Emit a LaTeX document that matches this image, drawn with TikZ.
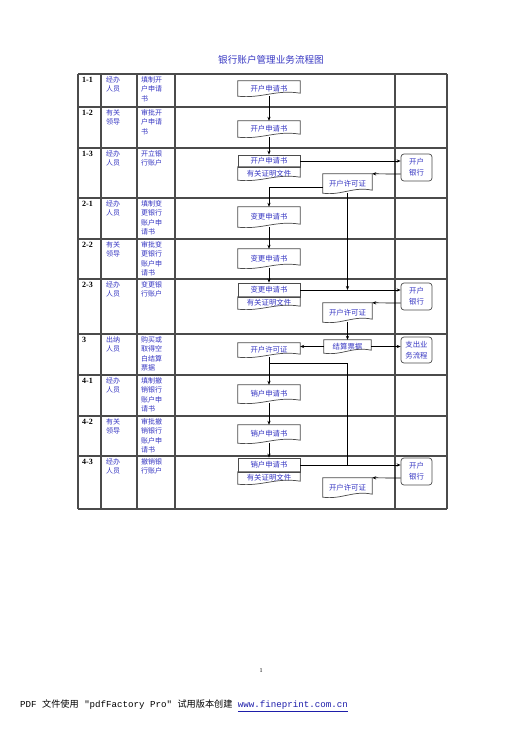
\documentclass[tikz,border=0pt]{standalone}
\usepackage{fontspec}
\setmainfont{Liberation Serif}
\setmonofont{Liberation Mono}
\newfontfamily\cjk{Noto Sans CJK SC}
\usetikzlibrary{arrows.meta}
\definecolor{txtblue}{RGB}{55,55,195}
\definecolor{gridc}{RGB}{75,75,75}
\definecolor{linkblue}{RGB}{30,30,170}
\tikzset{
  tbl/.style={line width=1.1pt, draw=gridc},
  cell/.style={font=\cjk\fontsize{7}{9.5}\selectfont, text=txtblue, align=left, anchor=north west, inner sep=0pt},
  num/.style={font=\bfseries\fontsize{8}{9}\selectfont, anchor=north west, inner sep=0pt},
  box/.style={inner sep=0pt, font=\cjk\fontsize{7.4}{8}\selectfont, text=txtblue, minimum width=62pt},
  sbox/.style={box, minimum width=49pt},
  rbox/.style={draw=gridc, line width=0.7pt, rounded corners=3pt, minimum width=31pt, minimum height=27pt, inner sep=0pt, align=center, font=\cjk\fontsize{7.4}{11}\selectfont, text=txtblue},
  outl/.style={draw=gridc, line width=0.7pt},
  arr/.style={-{Stealth[length=4pt,width=3.2pt]}, line width=0.7pt},
  conn/.style={line width=0.7pt}
}
\newcommand\docline[2]{\draw[outl] (#1.north west) -- (#1.north east) -- ([yshift=3pt]#1.south east) .. controls ([xshift=-#2,yshift=7pt]#1.south east) and ([xshift=#2,yshift=-2.5pt]#1.south west) .. (#1.south west) -- cycle;}
\begin{document}
\begin{tikzpicture}[x=1pt,y=-1pt]
\useasboundingbox (0,0) rectangle (515,729);
\fill[white] (0,0) rectangle (515,729);
% title
\node[font=\cjk\fontsize{9.6}{10}\selectfont, text=txtblue] (title) at (271,60) {银行账户管理业务流程图};
% table grid
\foreach \yy in {74,107,148,198,239,279,334,375,416,456,509} \draw[tbl] (78,\yy) -- (447,\yy);
\foreach \xx in {78,101,137,175,395,447} \draw[tbl] (\xx,74) -- (\xx,509);
% row texts
\foreach \top/\n/\r/\d [count=\i] in {
 74/1-1/经办\\人员/填制开\\户申请\\书,
 107/1-2/有关\\领导/审批开\\户申请\\书,
 148/1-3/经办\\人员/开立银\\行账户,
 198/2-1/经办\\人员/填制变\\更银行\\账户申\\请书,
 239/2-2/有关\\领导/审批变\\更银行\\账户申\\请书,
 279/2-3/经办\\人员/变更银\\行账户,
 334/3/出纳\\人员/购买或\\取得空\\白结算\\票据,
 375/4-1/经办\\人员/填制撤\\销银行\\账户申\\请书,
 416/4-2/有关\\领导/审批撤\\销银行\\账户申\\请书,
 456/4-3/经办\\人员/撤销银\\行账户}{
  \node[num] (n\i) at (82,\top+3) {\n};
  \node[cell] (r\i) at (106,\top+2) {\r};
  \node[cell] (c\i) at (141,\top+2) {\d};
}
% main column
\node[box, minimum height=15pt] (d11) at (269,88.5) {开户申请书};
\node[box, minimum height=16pt] (d12) at (269,129) {开户申请书};
\node[box, minimum height=12pt, outl] (t13) at (269,161) {开户申请书};
\node[box, minimum height=13pt] (b13) at (269,173.5) {有关证明文件};
\node[box, minimum height=20pt] (d21) at (269,217) {变更申请书};
\node[box, minimum height=19pt] (d22) at (269,258.5) {变更申请书};
\node[box, minimum height=14pt, outl] (t23) at (269,290) {变更申请书};
\node[box, minimum height=12pt] (b23) at (269,303) {有关证明文件};
\node[box, minimum height=14pt] (p3) at (269,350) {开户许可证};
\node[box, minimum height=18pt] (d41) at (269,394) {销户申请书};
\node[box, minimum height=18pt] (d42) at (269,434) {销户申请书};
\node[box, minimum height=14pt, outl] (t43) at (269,465) {销户申请书};
\node[box, minimum height=12pt] (b43) at (269,478) {有关证明文件};
% side nodes
\node[rbox] (bank1) at (416.5,167.5) {开户\\银行};
\node[rbox] (bank2) at (416.5,296.5) {开户\\银行};
\node[rbox, minimum height=26pt] (zc) at (416.5,350) {支出业\\务流程};
\node[rbox] (bank3) at (416.5,471.5) {开户\\银行};
\node[sbox, minimum height=19pt] (p1) at (347.5,183.5) {开户许可证};
\node[sbox, minimum height=19pt] (p2) at (347.5,312.5) {开户许可证};
\node[sbox, minimum width=47pt, minimum height=13pt] (js) at (347.5,346.5) {结算票据};
\node[sbox, minimum height=19pt] (p4) at (347.5,487.5) {开户许可证};
% document outlines
\foreach \nm in {d11,d12,b13,d21,d22,b23,p3,d41,d42,b43} {\docline{\nm}{24pt}}
\foreach \nm in {p1,p2,js,p4} {\docline{\nm}{19pt}}
% connectors
\draw[arr] (d11) -- (d12);
\draw[arr] (d12) -- (t13);
\draw[arr] (t13.east) -- (bank1.west |- t13.east);
\draw[arr] ([yshift=-6.5pt]bank1.west) -- (p1.north east);
\draw[arr] ([yshift=-3.5pt]p1.west) -| (d21.north);
\draw[arr] (p1.south) -- (p1.south |- t23.east);
\draw[arr] (d21) -- (d22);
\draw[arr] (d22) -- (t23);
\draw[arr] (t23.east) -- (bank2.west |- t23.east);
\draw[arr] ([yshift=-6.5pt]bank2.west) -- (p2.north east);
\draw[arr] (p2.south) -- (js.north);
\draw[arr] (js.west) -- (js.west -| p3.east);
\draw[arr] (js.east) -- (js.east -| zc.west);
\draw[arr] (p3) -- (d41);
\coordinate (br) at (269,363);
\coordinate (j4) at (p1.south |- t43.east);
\draw[conn] (br) -| (j4);
\draw[arr] (d41) -- (d42);
\draw[arr] (d42) -- (t43);
\draw[arr] (t43.east) -- (bank3.west |- t43.east);
\draw[arr] ([yshift=-6.5pt]bank3.west) -- (p4.north east);
% page number and footer
\node[font=\fontsize{6}{7}\selectfont] (pg) at (261,671) {1};
\node[anchor=west, inner sep=0pt, font=\ttfamily\fontsize{9.15}{10}\selectfont] (foot) at (20,706) {PDF {\cjk 文件使用} "pdfFactory Pro" {\cjk 试用版本创建} \textcolor{linkblue}{\underline{www.fineprint.com.cn}}};
\end{tikzpicture}
\end{document}
